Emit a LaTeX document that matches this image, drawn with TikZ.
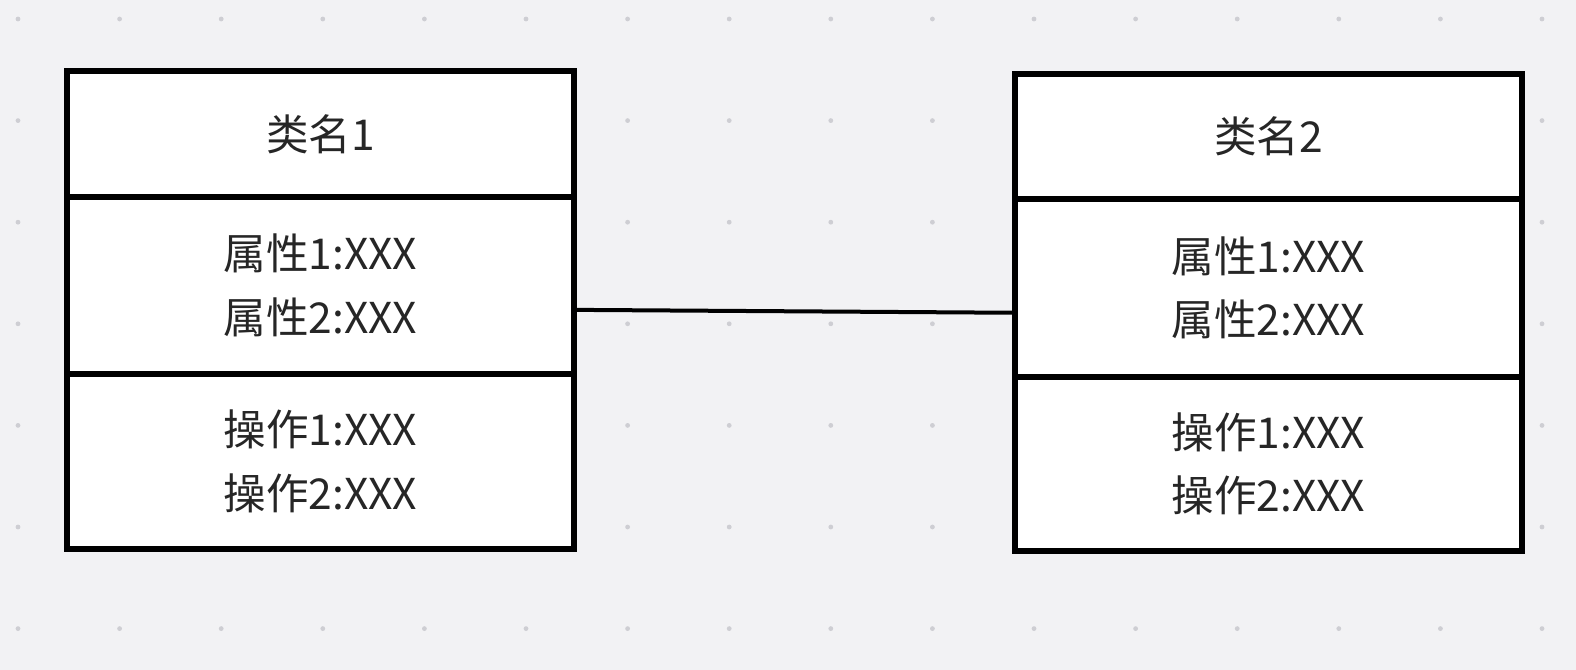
\documentclass[tikz,border=0pt]{standalone}
\usepackage{fontspec}
\usepackage{tikz}
\usetikzlibrary{positioning}
\newfontfamily\cjk{Noto Sans CJK SC}
\definecolor{bggrey}{RGB}{242,242,244}
\definecolor{dotgrey}{RGB}{206,206,211}
\tikzset{
	cell/.style={draw=black, fill=white, line width=4.5pt, outer sep=0pt, inner sep=0pt,
		minimum width=380pt, align=center, text=black!85,
		font=\cjk\fontsize{31.9}{47.5}\selectfont},
	namecell/.style={cell, minimum height=94pt},
	attrcell/.style={cell, minimum height=133pt},
	opcell/.style={cell, minimum height=131pt},
	link/.style={draw=black, line width=3pt}
}

\begin{document}
\begin{tikzpicture}[x=0.75pt, y=-0.75pt]
					\fill[bggrey] (0,0) rectangle (1576,670);
					\useasboundingbox (0,0) rectangle (1576,670);
					\foreach \i in {0,...,15}
						\foreach \j in {0,...,6}
							\fill[dotgrey] ({18+101.6*\i},{19+101.6*\j}) circle (2.4);
					
					\node[namecell] (c1n) at (320.5,134) {类名1};
					\node[attrcell, below=0pt of c1n] (c1a) {属性1:XXX\\属性2:XXX};
					\node[opcell, below=0pt of c1a] (c1o) {操作1:XXX\\操作2:XXX};
					
					\node[namecell] (c2n) at (1268.5,136.5) {类名2};
					\node[attrcell, below=0pt of c2n] (c2a) {属性1:XXX\\属性2:XXX};
					\node[opcell, below=0pt of c2a] (c2o) {操作1:XXX\\操作2:XXX};
					
					\draw[link] ([yshift=-18.4pt]c1a.east) -- ([yshift=-18.7pt]c2a.west);
				\end{tikzpicture}
\end{document}
